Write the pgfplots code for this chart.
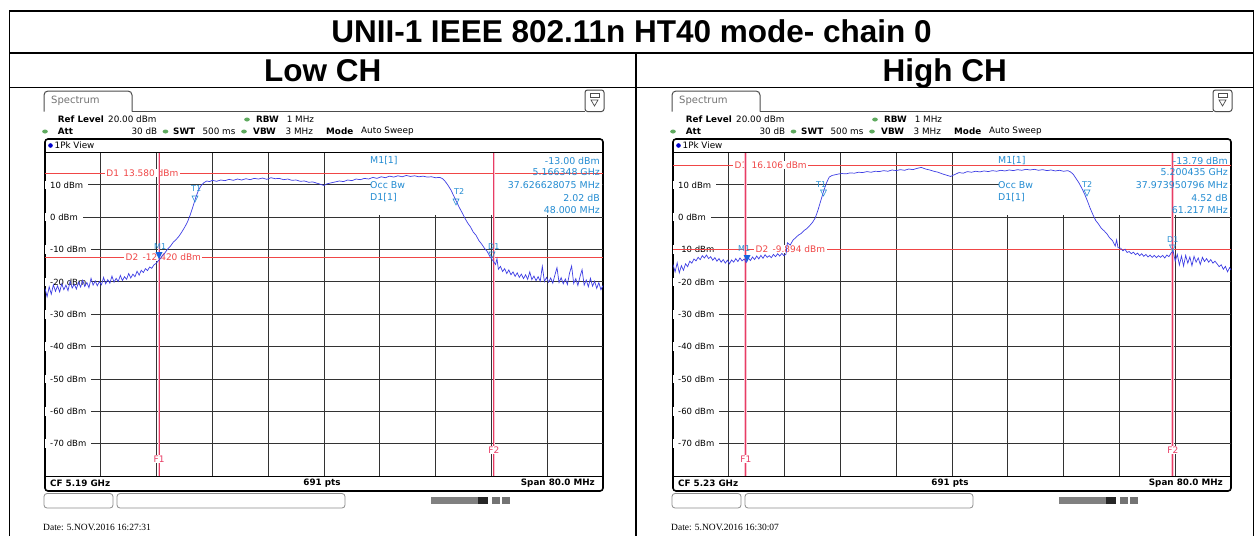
\documentclass[border=0pt]{standalone}
\usepackage{pgfplots}
\pgfplotsset{compat=1.18}
\usepackage{fontspec}
\setmainfont{Liberation Sans}
\newfontfamily\dv{DejaVu Sans}
\newfontfamily\lser{Liberation Serif}
\definecolor{trc}{RGB}{62,62,228}
\definecolor{mk}{RGB}{35,140,210}
\definecolor{rl}{RGB}{240,70,70}
\definecolor{fl}{RGB}{232,60,100}
\definecolor{gd}{RGB}{95,170,95}
\tikzset{
  px/.style={x=1pt,y=-1pt},
  t9/.style={font=\dv\fontsize{8.8}{10}\selectfont, inner sep=0pt, anchor=west},
  t9b/.style={font=\dv\bfseries\fontsize{8.8}{10}\selectfont, inner sep=0pt, anchor=west},
  mt/.style={font=\dv\fontsize{9.4}{10}\selectfont, inner sep=0pt, anchor=west, text=mk},
  ms/.style={font=\dv\fontsize{8}{9}\selectfont, inner sep=0pt, anchor=west, text=mk},
  lab/.style={font=\dv\fontsize{8.5}{10}\selectfont, fill=white, inner xsep=5pt, inner ysep=1pt, anchor=west},
  rlab/.style={font=\dv\fontsize{9}{10}\selectfont, fill=white, inner xsep=1.5pt, inner ysep=0.5pt, anchor=west, text=rl},
  flab/.style={font=\dv\fontsize{9}{10}\selectfont, fill=white, inner xsep=0.5pt, inner ysep=1pt, text=fl},
}
\pgfplotsset{spec/.style={
  scale only axis, width=558pt, height=323.5pt,
  xmin=-40, xmax=40, ymin=-80, ymax=20,
  xtick={-32,-24,...,32}, ytick={-70,-60,...,10},
  xticklabels={}, yticklabels={},
  major tick length=0pt,
  xmajorgrids, ymajorgrids,
  major grid style={draw=black!80, line width=0.9pt},
  axis line style={draw=black, line width=0.9pt},
  anchor=south west,
}}
\newcommand\ylabs{%
\node[lab] at (axis cs:-40,10) {10 dBm};
\node[lab] at (axis cs:-40,0) {0 dBm};
\node[lab] at (axis cs:-40,-10) {-10 dBm};
\node[lab] at (axis cs:-40,-20) {-20 dBm};
\node[lab] at (axis cs:-40,-30) {-30 dBm};
\node[lab] at (axis cs:-40,-40) {-40 dBm};
\node[lab] at (axis cs:-40,-50) {-50 dBm};
\node[lab] at (axis cs:-40,-60) {-60 dBm};
\node[lab] at (axis cs:-40,-70) {-70 dBm};}
\newcommand\fline[1]{%
\addplot[color=fl!30, line width=2.6pt] coordinates {(#1,-80) (#1,20)};
\addplot[color=fl, line width=1pt] coordinates {(#1,-80) (#1,20)};}
\newcommand\chrome[3]{%
\begin{scope}[px, shift={(#1,0)}]
\draw[line width=1pt, rounded corners=4pt, black!70] (44,111.5) -- (44,91) -- (132,91) -- (132,111.5);
\draw[line width=1pt, black!70] (132,111.5) -- (585,111.5);
\draw[line width=1pt, rounded corners=2.5pt, black!70] (585,90) rectangle (604,111.5);
\draw[black!70, line width=0.8pt] (590,93.5) rectangle (599,97);
\draw[black!70, line width=0.7pt] (591,100) -- (598,100) -- (594.5,106) -- cycle;
\node[font=\dv\fontsize{10}{11}\selectfont, inner sep=0pt, anchor=west, text=black!55] at (51,101) {Spectrum};
\node[t9b] at (57.7,119.5) {Ref Level};
\node[t9] at (108,119.5) {20.00 dBm};
\fill[gd] (247,119.5) ellipse (2.8pt and 2pt);
\node[t9b] at (256,119.5) {RBW};
\node[t9] at (286.6,119.5) {1 MHz};
\fill[gd] (45,131.5) ellipse (2.8pt and 2pt);
\node[t9b] at (57.7,131.5) {Att};
\node[t9, anchor=east] at (157.4,131.5) {30 dB};
\fill[gd] (165.5,131.5) ellipse (2.8pt and 2pt);
\node[t9b] at (173,131.5) {SWT};
\node[t9] at (202.4,131.5) {500 ms};
\fill[gd] (244,131.5) ellipse (2.8pt and 2pt);
\node[t9b] at (253,131.5) {VBW};
\node[t9] at (285.5,131.5) {3 MHz};
\node[t9b] at (326,131.5) {Mode};
\node[t9] at (361,131.5) {Auto Sweep};
\draw[line width=1.6pt, rounded corners=3pt] (45,139) rectangle (603,491);
\fill[blue!80!black] (50.5,145.5) circle (2.3pt);
\node[t9] at (54.5,145.5) {1Pk View};
\node[t9b] at (50,483.5) {CF #2};
\node[t9b, anchor=center] at (322,483.5) {691 pts};
\node[t9b, anchor=east] at (595,483.5) {Span 80.0 MHz};
\draw[black!45, line width=0.8pt, rounded corners=3pt] (44,493.5) rectangle (113,508);
\draw[black!45, line width=0.8pt, rounded corners=3pt] (117,493.5) rectangle (345,508);
\fill[black!50] (431,497) rectangle (478,503.5);
\fill[black!85] (478,497) rectangle (488,503.5);
\fill[black!55] (492,497) rectangle (500,503.5);
\fill[black!55] (502,497) rectangle (510,503.5);
\node[font=\lser\fontsize{9.5}{10}\selectfont, inner sep=0pt, anchor=west] at (43,527) {Date: #3};
\end{scope}}
\newcommand\mkinfo[6]{%
\begin{scope}[px, shift={(#1,0)}]
\node[mt] at (370,160.5) {M1[1]};
\node[mt] at (370,185) {Occ Bw};
\node[mt] at (370,197.5) {D1[1]};
\node[mt, anchor=east] at (600,160.5) {#2};
\node[mt, anchor=east] at (600,172.5) {#3};
\node[mt, anchor=east] at (600,185) {#4};
\node[mt, anchor=east] at (600,197.5) {#5};
\node[mt, anchor=east] at (600,210) {#6};
\end{scope}}
\begin{document}
\begin{tikzpicture}
\useasboundingbox (0pt,0pt) rectangle (1255pt,-536pt);
\begin{scope}[px]
\draw[line width=1.3pt] (9.5,536) -- (9.5,11) -- (1253.5,11) -- (1253.5,536);
\draw[line width=1.3pt] (9.5,53) -- (1253.5,53);
\draw[line width=1.3pt] (9.5,87.5) -- (1253.5,87.5);
\draw[line width=1.3pt] (636,53) -- (636,536);
\node[font=\bfseries\fontsize{31.5}{36}\selectfont, inner sep=0pt, anchor=base] at (631.5,42) {UNII-1 IEEE 802.11n HT40 mode- chain 0};
\node[font=\bfseries\fontsize{31.5}{36}\selectfont, inner sep=0pt, anchor=base] at (322.7,81) {Low CH};
\node[font=\bfseries\fontsize{31.5}{36}\selectfont, inner sep=0pt, anchor=base] at (944.7,81) {High CH};
\end{scope}
% ---------- Left panel ----------
\chrome{0}{5.19 GHz}{5.NOV.2016  16:27:31}
\begin{axis}[spec, at={(45pt,-476pt)}]
\fill[white] (axis cs:6.7,0.6) rectangle (axis cs:39.85,19.8);
\ylabs
\addplot[color=rl, line width=0.9pt] coordinates {(-40,13.58) (40,13.58)};
\addplot[color=rl, line width=0.9pt] coordinates {(-40,-12.42) (40,-12.42)};
\node[rlab] at (axis cs:-31.45,13.58) {D1 \,13.580 dBm};
\node[rlab] at (axis cs:-28.67,-12.42) {D2 \,-12.420 dBm};
\fline{-23.652}
\fline{24.348}
\node[flab] at (axis cs:-23.652,-74.7) {F1};
\node[flab] at (axis cs:24.348,-72) {F2};
\addplot[color=trc, line width=0.7pt] coordinates {
(-40.0,-22.0) (-39.7,-24.6) (-39.4,-21.5) (-39.1,-23.8) (-38.8,-20.9) (-38.5,-22.9) (-38.2,-21.2) (-37.9,-23.1)
(-37.6,-20.6) (-37.3,-22.4) (-37.0,-21.0) (-36.7,-22.7) (-36.4,-19.8) (-36.1,-21.9) (-35.8,-20.7) (-35.5,-22.2)
(-35.2,-20.1) (-34.9,-21.6) (-34.6,-19.5) (-34.3,-21.4) (-34.0,-20.2) (-33.7,-21.8) (-33.4,-18.9) (-33.1,-21.0)
(-32.8,-19.7) (-32.5,-21.2) (-32.2,-19.9) (-31.9,-20.9) (-31.6,-18.6) (-31.3,-20.6) (-31.0,-19.3) (-30.7,-20.4)
(-30.4,-18.2) (-30.1,-20.1) (-29.8,-18.9) (-29.5,-19.9) (-29.2,-18.0) (-28.9,-19.6) (-28.6,-18.4) (-28.3,-19.2)
(-28.0,-17.4) (-27.7,-18.8) (-27.4,-17.6) (-27.1,-18.4) (-26.8,-16.7) (-26.5,-17.9) (-26.2,-16.4) (-25.9,-17.1)
(-25.6,-15.9) (-25.3,-16.5) (-25.0,-15.4) (-24.7,-15.8) (-24.4,-14.8) (-24.1,-14.3) (-23.8,-13.6) (-23.5,-12.9)
(-23.2,-12.0) (-22.8,-11.0) (-22.4,-9.8) (-22.0,-8.9) (-21.6,-7.7) (-21.2,-6.9)
(-20.8,-5.9) (-20.4,-4.6) (-20.0,-3.2) (-19.6,-1.6) (-19.2,0.6) (-18.8,3.2) (-18.4,6.0) (-18.0,8.3)
(-17.6,9.8) (-17.2,10.7) (-16.8,11.2) (-16.4,11.0) (-16.0,11.4) (-15.4,11.1) (-14.8,11.5) (-14.2,11.3)
(-13.6,11.7) (-13.0,11.4) (-12.4,11.8) (-11.8,11.5) (-11.2,11.9) (-10.6,11.6) (-10.0,12.0) (-9.4,11.8)
(-8.8,12.1) (-8.2,11.7) (-7.6,12.2) (-7.0,11.9) (-6.4,12.0) (-5.8,11.6) (-5.2,11.8) (-4.6,11.4)
(-4.0,11.5) (-3.4,11.1) (-2.8,11.2) (-2.2,10.8) (-1.6,10.9) (-1.0,10.5) (-0.4,10.1) (0.0,9.8)
(0.4,10.3) (1.0,10.6) (1.6,10.9) (2.2,11.2) (2.8,11.0) (3.4,11.5) (4.0,11.3) (4.6,11.8)
(5.2,11.6) (5.8,12.0) (6.4,11.8) (7.0,12.3) (7.6,12.0) (8.2,12.5) (8.8,12.2) (9.4,12.7)
(10.0,12.4) (10.6,12.8) (11.2,12.5) (11.8,12.9) (12.4,12.6) (13.0,12.8) (13.6,12.5) (14.2,12.7)
(14.8,12.4) (15.4,12.5) (16.0,12.2) (16.6,12.3) (17.0,11.9) (17.4,11.0) (17.8,9.8) (18.2,8.4)
(18.6,6.6) (19.0,4.8) (19.4,3.0) (19.8,1.4) (20.2,-0.3) (20.6,-1.8) (21.0,-3.0) (21.4,-4.6)
(21.8,-5.6) (22.2,-7.2) (22.6,-8.3) (23.0,-9.6) (23.4,-10.6) (23.8,-12.2) (24.2,-13.4) (24.6,-14.6)
(24.8,-12.8) (25.0,-16.1) (25.3,-15.2) (25.6,-16.8) (25.9,-15.9) (26.2,-17.4) (26.5,-16.3) (26.8,-17.8)
(27.1,-16.9) (27.4,-18.3) (27.7,-17.2) (28.0,-18.6) (28.3,-17.6) (28.6,-19.0) (28.9,-17.8) (29.2,-19.2)
(29.5,-16.9) (29.8,-19.3) (30.1,-18.2) (30.4,-19.6) (30.7,-18.4) (31.0,-19.8) (31.3,-15.2) (31.6,-19.9)
(31.9,-18.6) (32.2,-20.1) (32.5,-18.8) (32.8,-20.4) (33.1,-17.9) (33.4,-15.6) (33.7,-20.2) (34.0,-18.7)
(34.3,-20.6) (34.6,-19.1) (34.9,-20.8) (35.2,-17.3) (35.5,-15.1) (35.8,-20.5) (36.1,-19.0) (36.4,-21.1)
(36.7,-18.4) (37.0,-16.2) (37.3,-21.0) (37.6,-19.4) (37.9,-21.5) (38.2,-18.9) (38.5,-21.3) (38.8,-19.8)
(39.1,-22.0) (39.4,-20.2) (39.7,-22.4) (40.0,-21.1)};
\end{axis}
\mkinfo{0}{-13.00 dBm}{5.166348 GHz}{37.626628075 MHz}{2.02 dB}{48.000 MHz}
\begin{scope}[px]
\node[ms] at (191,189) {T1};
\draw[mk, line width=0.6pt] (192,196) -- (198,196) -- (195,202) -- cycle;
\node[ms] at (454,192) {T2};
\draw[mk, line width=0.6pt] (453,199) -- (459,199) -- (456,205) -- cycle;
\node[ms] at (154,247) {M1};
\fill[mk!70!blue] (155.5,252) -- (162.5,252) -- (159,259) -- cycle;
\node[ms] at (488,247) {D1};
\draw[mk, line width=0.6pt] (489,252) -- (495,252) -- (492,258) -- cycle;
\end{scope}
% ---------- Right panel ----------
\chrome{628}{5.23 GHz}{5.NOV.2016  16:30:07}
\begin{axis}[spec, at={(673pt,-476pt)}]
\fill[white] (axis cs:6.7,0.6) rectangle (axis cs:39.85,19.8);
\ylabs
\addplot[color=rl, line width=0.9pt] coordinates {(-40,16.106) (40,16.106)};
\addplot[color=rl, line width=0.9pt] coordinates {(-40,-9.894) (40,-9.894)};
\node[rlab] at (axis cs:-31.4,16.106) {D1 \,16.106 dBm};
\node[rlab] at (axis cs:-28.4,-9.894) {D2 \,-9.894 dBm};
\fline{-29.565}
\fline{31.652}
\node[flab] at (axis cs:-29.565,-74.7) {F1};
\node[flab] at (axis cs:31.652,-72) {F2};
\addplot[color=trc, line width=0.7pt] coordinates {
(-40.0,-14.6) (-39.7,-16.9) (-39.4,-14.1) (-39.1,-17.2) (-38.8,-15.0) (-38.5,-16.4) (-38.2,-14.4) (-37.9,-15.3)
(-37.6,-13.6) (-37.3,-14.2) (-37.0,-12.9) (-36.7,-13.5) (-36.4,-12.4) (-36.1,-13.1) (-35.8,-11.9) (-35.5,-12.6)
(-35.2,-11.7) (-34.9,-12.8) (-34.6,-12.2) (-34.3,-13.3) (-34.0,-12.5) (-33.7,-13.6) (-33.4,-12.8) (-33.1,-13.9)
(-32.8,-13.1) (-32.5,-14.2) (-32.2,-13.3) (-31.9,-14.4) (-31.6,-13.2) (-31.3,-13.9) (-31.0,-12.8) (-30.7,-13.7)
(-30.4,-12.6) (-30.1,-13.5) (-29.8,-12.9) (-29.5,-14.0) (-29.2,-12.6) (-28.9,-13.4) (-28.6,-12.3) (-28.3,-13.1)
(-28.0,-12.0) (-27.7,-12.9) (-27.4,-11.8) (-27.1,-12.7) (-26.8,-11.6) (-26.5,-12.4) (-26.2,-11.9) (-25.9,-12.5)
(-25.6,-11.5) (-25.3,-12.2) (-25.0,-11.3) (-24.7,-12.0) (-24.4,-11.2) (-24.1,-11.9) (-23.8,-11.4)
(-23.6,-7.9) (-23.2,-8.6) (-22.8,-7.1) (-22.4,-6.3) (-22.0,-5.5) (-21.6,-5.0)
(-21.2,-4.1) (-20.8,-3.5) (-20.4,-2.6) (-20.0,-1.6) (-19.6,-0.2) (-19.2,2.3) (-18.8,5.2) (-18.4,8.1)
(-18.0,10.6) (-17.6,12.4) (-17.2,12.9) (-16.8,13.1) (-16.4,13.3) (-15.8,13.5) (-15.2,13.4) (-14.6,13.7)
(-14.0,13.6) (-13.4,13.9) (-12.8,13.8) (-12.2,14.1) (-11.6,13.9) (-11.0,14.2) (-10.4,14.1) (-9.8,14.4)
(-9.2,14.2) (-8.6,14.6) (-8.0,14.4) (-7.4,14.7) (-6.8,14.5) (-6.2,14.9) (-5.6,14.7) (-5.0,15.1)
(-4.4,15.4) (-3.8,14.9) (-3.2,14.6) (-2.6,14.2) (-2.0,13.9) (-1.4,13.4) (-0.8,13.0) (-0.2,12.6)
(0.4,13.2) (1.0,13.8) (1.6,13.6) (2.2,14.1) (2.8,13.9) (3.4,14.2) (4.0,14.0) (4.6,14.3)
(5.2,14.1) (5.8,14.4) (6.4,14.2) (7.0,14.5) (7.6,14.3) (8.2,14.6) (8.8,14.4) (9.4,14.7)
(10.0,14.5) (10.6,14.8) (11.2,14.6) (11.8,14.8) (12.4,14.5) (13.0,14.7) (13.6,14.4) (14.2,14.6)
(14.8,14.3) (15.4,14.5) (16.0,14.2) (16.6,14.4) (17.0,14.0) (17.4,13.2) (17.8,11.9) (18.2,10.6)
(18.6,9.0) (19.0,7.2) (19.4,5.1) (19.8,2.8) (20.2,0.8) (20.6,-1.0) (21.0,-2.1) (21.4,-3.4)
(21.8,-4.2) (22.2,-5.1) (22.6,-6.4) (23.0,-7.2) (23.4,-8.9) (23.6,-7.0) (23.8,-9.4)
(24.2,-9.6) (24.5,-10.4) (24.8,-9.9) (25.1,-10.9) (25.4,-10.6) (25.7,-11.3) (26.0,-10.8) (26.3,-11.6)
(26.6,-11.1) (26.9,-11.9) (27.2,-11.3) (27.5,-12.1) (27.8,-11.5) (28.1,-12.3) (28.4,-11.7) (28.7,-12.4)
(29.0,-11.8) (29.3,-12.5) (29.6,-11.9) (29.9,-12.4) (30.2,-11.8) (30.5,-12.6) (30.8,-11.7) (31.1,-12.2)
(31.4,-11.1) (31.7,-10.4) (32.0,-13.6) (32.3,-11.5) (32.6,-14.8) (32.9,-12.0) (33.2,-15.1) (33.5,-11.8)
(33.8,-14.2) (34.1,-12.3) (34.4,-15.0) (34.7,-12.1) (35.0,-13.9) (35.3,-12.6) (35.6,-14.6) (35.9,-12.4)
(36.2,-13.7) (36.5,-12.8) (36.8,-13.9) (37.1,-13.1) (37.4,-14.2) (37.7,-13.6) (38.0,-14.4) (38.3,-15.3)
(38.6,-14.7) (38.9,-16.1) (39.2,-15.2) (39.5,-16.9) (39.8,-15.6) (40.0,-16.3)};
\end{axis}
\mkinfo{628}{-13.79 dBm}{5.200435 GHz}{37.973950796 MHz}{4.52 dB}{61.217 MHz}
\begin{scope}[px]
\node[ms] at (816,185) {T1};
\draw[mk, line width=0.6pt] (820.5,190) -- (826.5,190) -- (823.5,196) -- cycle;
\node[ms] at (1082,185) {T2};
\draw[mk, line width=0.6pt] (1084,190) -- (1090,190) -- (1087,196) -- cycle;
\node[ms] at (738,249) {M1};
\fill[mk!70!blue] (743.5,255) -- (750.5,255) -- (747,262) -- cycle;
\node[ms] at (1167,240) {D1};
\draw[mk, line width=0.6pt] (1169.5,245) -- (1175.5,245) -- (1172.5,251) -- cycle;
\end{scope}
\end{tikzpicture}
\end{document}
